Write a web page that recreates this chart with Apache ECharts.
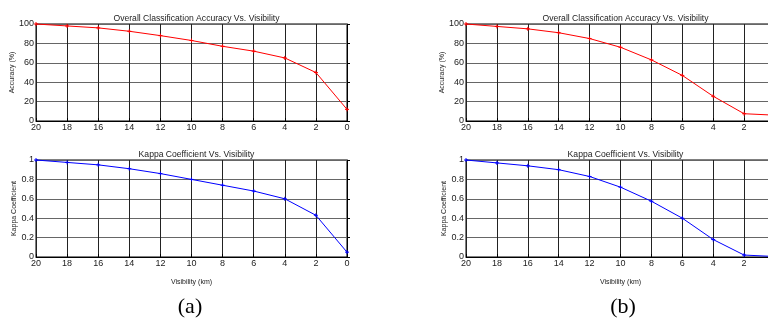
<!DOCTYPE html>
<html><head><meta charset="utf-8">
<script src="https://cdn.jsdelivr.net/npm/echarts@6/dist/echarts.min.js"></script>
<style>html,body{margin:0;padding:0;background:#fff}#c{width:768px;height:326px}</style>
</head><body><div id="c"></div>
<script>
const visibility = [20, 18, 16, 14, 12, 10, 8, 6, 4, 2, 0];
const accA = [100, 98, 96, 92.5, 88, 83, 77, 72, 65, 50, 12];
const kappaA = [1, 0.975, 0.95, 0.91, 0.86, 0.80, 0.74, 0.68, 0.60, 0.43, 0.05];
const accB = [100, 97.5, 95, 91, 85, 76, 63, 47, 25.5, 7.5, 6];
const kappaB = [1, 0.97, 0.94, 0.90, 0.83, 0.72, 0.575, 0.40, 0.18, 0.02, 0.005];
const titleAcc = 'Overall Classification Accuracy Vs. Visibility';
const titleKappa = 'Kappa Coefficient Vs. Visibility';
const xName = 'Visibility (km)';
const panelLabels = ['(a)', '(b)'];

const chart = echarts.init(document.getElementById('c'), null, {renderer: 'canvas'});
const font = 'Liberation Sans, Arial, sans-serif';
const plus = 'path://M-1,0L1,0M0,-1L0,1';

const grids = [
  {left: 36, width: 311, top: 24, height: 97},
  {left: 36, width: 311, top: 160, height: 97},
  {left: 466, width: 309, top: 24, height: 97},
  {left: 466, width: 309, top: 160, height: 97}
];

function xAxis(i, showName) {
  return {
    type: 'value', gridIndex: i, min: 0, max: 20, interval: 2, inverse: true,
    name: showName ? xName : '', nameLocation: 'middle', nameGap: 22,
    nameTextStyle: {fontFamily: font, fontSize: 7, color: '#222'},
    axisLine: {show: true, onZero: false, lineStyle: {color: '#000', width: 1}},
    axisTick: {show: true, inside: true, length: 3, lineStyle: {color: '#000'}},
    axisLabel: {fontFamily: font, fontSize: 9, color: '#222', margin: 2},
    splitLine: {show: true, lineStyle: {color: '#222', width: 1}}
  };
}
function yAxis(i, isAcc) {
  return {
    type: 'value', gridIndex: i, min: 0, max: isAcc ? 100 : 1, interval: isAcc ? 20 : 0.2,
    name: isAcc ? 'Accuracy (%)' : 'Kappa Coefficient', nameLocation: 'middle', nameGap: isAcc ? 18 : 17,
    nameTextStyle: {fontFamily: font, fontSize: 7, color: '#222'},
    axisLine: {show: true, lineStyle: {color: '#000', width: 1}},
    axisTick: {show: true, inside: true, length: 3, lineStyle: {color: '#000'}},
    axisLabel: {fontFamily: font, fontSize: 9, color: '#222', margin: 2,
      formatter: v => isAcc ? String(v) : String(Math.round(v * 10) / 10)},
    splitLine: {show: true, lineStyle: {color: '#666', width: 1}}
  };
}
function series(i, vals, color) {
  return {
    type: 'line', xAxisIndex: i, yAxisIndex: i,
    data: visibility.map((v, k) => [v, vals[k]]),
    symbol: plus, symbolSize: 4, showSymbol: true,
    lineStyle: {color: color, width: 1},
    itemStyle: {color: color, borderColor: color, borderWidth: 1},
    animation: false, clip: false
  };
}
const tStyle = {fontFamily: font, fontSize: 8.6, fontWeight: 'normal', color: '#222'};
const pStyle = {fontFamily: 'Liberation Serif, Times New Roman, serif', fontSize: 22, fontWeight: 'normal', color: '#000'};

chart.setOption({
  animation: false,
  backgroundColor: '#fff',
  title: [
    {text: titleAcc, left: 191.5, top: 9, textAlign: 'center', textStyle: tStyle},
    {text: titleKappa, left: 191.5, top: 145, textAlign: 'center', textStyle: tStyle},
    {text: titleAcc, left: 620.5, top: 9, textAlign: 'center', textStyle: tStyle},
    {text: titleKappa, left: 620.5, top: 145, textAlign: 'center', textStyle: tStyle},
    {text: panelLabels[0], left: 185, top: 291, textAlign: 'center', textStyle: pStyle},
    {text: panelLabels[1], left: 618, top: 291, textAlign: 'center', textStyle: pStyle}
  ],
  grid: grids.map(g => Object.assign({show: true, borderColor: '#000', borderWidth: 1, backgroundColor: '#fff', containLabel: false, outerBoundsMode: 'none'}, g)),
  xAxis: [xAxis(0, false), xAxis(1, true), xAxis(2, false), xAxis(3, true)],
  yAxis: [yAxis(0, true), yAxis(1, false), yAxis(2, true), yAxis(3, false)],
  series: [
    series(0, accA, '#ff0000'),
    series(1, kappaA, '#0000ff'),
    series(2, accB, '#ff0000'),
    series(3, kappaB, '#0000ff')
  ]
});
</script></body></html>
